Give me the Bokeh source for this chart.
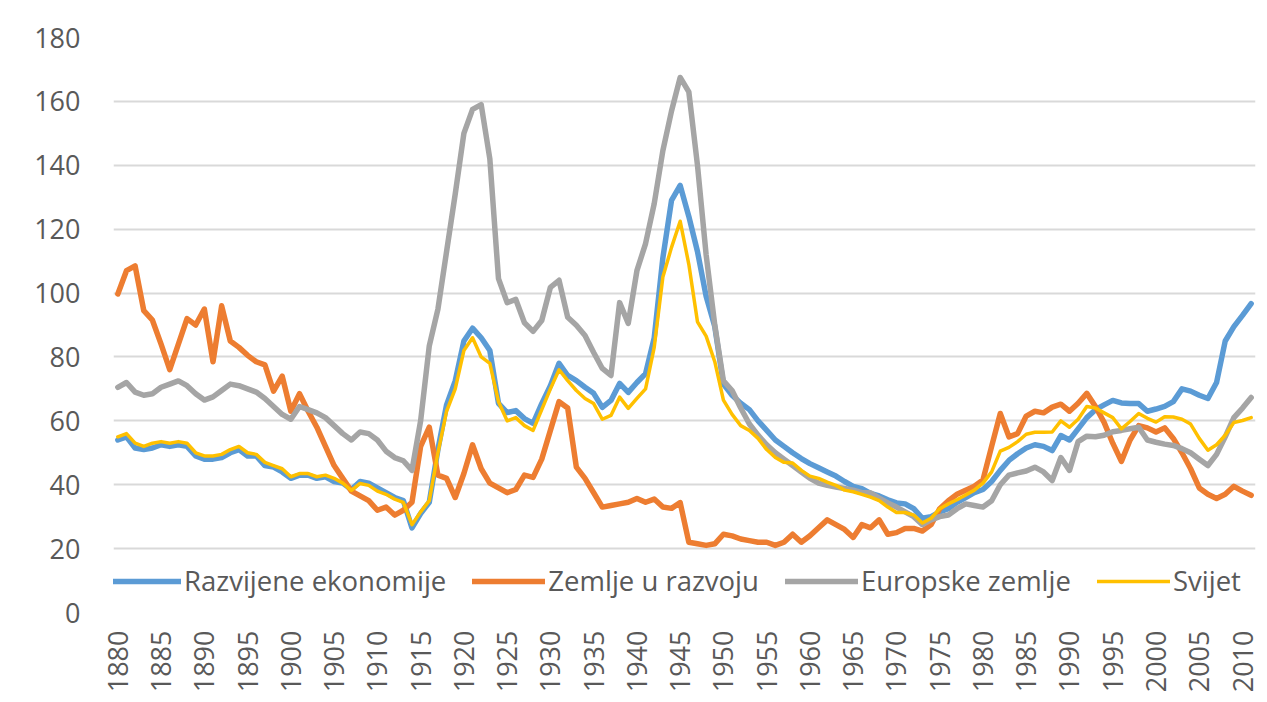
import math
from bokeh.plotting import figure
from bokeh.models import FixedTicker, Legend, LegendItem
from bokeh.embed import file_html
from bokeh.resources import INLINE

years = list(range(1880, 2012))

razvijene = [
    54, 55, 51.5, 51, 51.5, 52.5, 52, 52.5, 52, 49,
    48, 48, 48.5, 50, 51, 49, 49, 46, 45.5, 44,
    42, 43, 43, 42, 42.5, 41, 40.5, 38.5, 41, 40.5,
    39, 37.5, 36, 35, 26.5, 31, 34.5, 51, 65, 72.5,
    85, 89, 86, 82, 65.5, 62.6, 63.2, 60.7, 59.2, 65.4,
    71, 78, 74.2, 72.6, 70.5, 68.6, 64.2, 66.4, 71.7, 68.9,
    72, 74.8, 86, 111, 129, 133.7, 124, 113, 99, 89.5,
    71.5, 68, 65.5, 63.5, 60, 57, 54, 52, 50, 48.2,
    46.6, 45.3, 44, 42.7, 41, 39.5, 38.8, 37.3, 36.5, 35.3,
    34.3, 34, 32.5, 29.5, 30, 31.5, 32.5, 34.5, 36, 37.5,
    38.5, 41, 44.5, 47.6, 49.7, 51.5, 52.5, 52, 50.7, 55.4,
    54, 57.5, 61, 63.5, 65, 66.4, 65.6, 65.4, 65.4, 63,
    63.7, 64.5, 66, 70, 69.3, 68, 67, 72, 85, 89.5,
    93, 96.7,
]

u_razvoju = [
    99.7, 107, 108.5, 94.5, 91.5, 84, 76, 84, 92, 90,
    95, 78.5, 96, 85, 83, 80.5, 78.5, 77.5, 69.3, 74,
    63, 68.5, 63, 58, 52, 46, 42, 38, 36.5, 35,
    32, 33, 30.5, 32, 34.5, 52, 58, 43, 42, 36,
    43.5, 52.5, 45, 40.5, 39, 37.5, 38.5, 43, 42.3, 48,
    57, 66, 64, 45.5, 42, 37.5, 33, 33.5, 34, 34.5,
    35.7, 34.5, 35.5, 33, 32.6, 34.4, 22, 21.5, 21, 21.5,
    24.5, 24, 23, 22.5, 22, 22, 21, 22, 24.5, 22,
    24, 26.5, 29, 27.5, 26, 23.5, 27.5, 26.5, 29, 24.5,
    25, 26.3, 26.3, 25.5, 27.5, 32.5, 35, 37, 38.3, 39.5,
    41.5, 52, 62.3, 55, 56, 61.5, 63, 62.5, 64.3, 65.2,
    63, 65.5, 68.6, 64.5, 59.5, 53, 47.3, 54, 58.5, 57.8,
    56.5, 57.8, 54.5, 50, 45, 39, 37, 35.7, 37, 39.5,
    38, 36.7,
]

europske = [
    70.5, 72, 69, 68, 68.5, 70.5, 71.5, 72.5, 71, 68.5,
    66.5, 67.5, 69.5, 71.5, 71, 70, 69, 67, 64.5, 62,
    60.5, 64.5, 63.5, 62.5, 61, 58.5, 56, 54, 56.5, 56,
    54, 50.5, 48.5, 47.5, 44.5, 60, 83.5, 95, 113, 131,
    150, 157.5, 159, 142, 104.5, 97, 98, 90.7, 88, 91.4,
    101.8, 104, 92.4, 89.9, 86.7, 81.4, 76.4, 74.2, 97, 90.5,
    107, 115.5, 128, 144.6, 157, 167.5, 163, 140, 112, 90,
    72.5, 69.5, 64, 59, 55.5, 52.5, 50, 48, 46, 44,
    42, 40.5, 39.8, 39.3, 38.8, 38.3, 37.5, 37.5, 35.8, 34.3,
    33, 31.5, 30, 27.5, 29, 30, 30.5, 32.5, 34, 33.5,
    33, 35, 40, 43, 43.7, 44.3, 45.5, 44, 41.3, 48.5,
    44.5, 53.5, 55.2, 55, 55.5, 56.6, 57, 57.5, 58, 54,
    53.3, 52.7, 52.3, 51.3, 50, 48, 46, 49.5, 55, 61,
    64, 67.3,
]

svijet = [
    55, 56, 53, 52, 53, 53.5, 53, 53.5, 53, 50,
    49, 49, 49.5, 51, 52, 50, 49.5, 47, 46, 45,
    42.5, 43.5, 43.5, 42.5, 43, 42, 40.5, 38.2, 40.4, 39.8,
    38, 37, 35.5, 34.5, 27.5, 31.5, 35, 50, 63, 70,
    82, 86, 80, 78, 66, 60, 61, 58.5, 57, 63.5,
    70, 76, 72.6, 69.5, 67, 65.4, 60.5, 61.7, 67.4, 63.9,
    67, 70, 83, 105, 114.3, 122.5, 109, 91, 86.5, 78.5,
    66.5, 62, 58.5, 57, 54.5, 51, 48.5, 47, 46.8, 44.5,
    42.7, 42, 40.8, 39.8, 38.3, 37.8, 37, 36.1, 35, 33,
    31.3, 31.3, 30.5, 28, 29.5, 32.5, 34, 35.3, 36.8, 38.3,
    40.5, 44, 50.5, 51.7, 53.5, 55.8, 56.4, 56.4, 56.5, 60,
    58, 60.5, 64.5, 64, 62.5, 61, 57.5, 59.8, 62.3, 60.8,
    59.6, 61.3, 61.2, 60.5, 59, 54.5, 50.8, 52.5, 55.5, 59.5,
    60.1, 61,
]

series_names = ["Razvijene ekonomije", "Zemlje u razvoju", "Europske zemlje", "Svijet"]
x_ticks = list(range(1880, 2011, 5))
y_ticks = list(range(0, 181, 20))

FONT = "Open Sans"
TXT = "#595959"

p = figure(frame_width=1142, frame_height=575,
           x_range=(1879.5, 2011.5), y_range=(0, 180),
           output_backend="svg", toolbar_location=None,
           min_border_left=113, min_border_right=10,
           min_border_top=37, min_border_bottom=82)
p.outline_line_color = None
p.background_fill_color = "white"
p.border_fill_color = "white"

p.xgrid.grid_line_color = None
p.ygrid.ticker = FixedTicker(ticks=y_ticks)
p.ygrid.grid_line_color = "#D9D9D9"
p.ygrid.grid_line_width = 2

p.xaxis.ticker = FixedTicker(ticks=x_ticks)
p.yaxis.ticker = FixedTicker(ticks=y_ticks)
p.xaxis.major_label_orientation = math.pi / 2
for ax in (p.xaxis, p.yaxis):
    ax.axis_line_color = None
    ax.major_tick_line_color = None
    ax.minor_tick_line_color = None
    ax.major_label_text_font = FONT
    ax.major_label_text_font_size = "27px"
    ax.major_label_text_color = TXT
p.yaxis.major_label_standoff = 27
p.xaxis.major_label_standoff = 12

colors = ["#5B9BD5", "#ED7D31", "#A5A5A5", "#FFC000"]
widths = [5.5, 5.5, 5.5, 3.5]
data = [razvijene, u_razvoju, europske, svijet]
items = []
for name, vals, c, w in zip(series_names, data, colors, widths):
    r = p.line(years, vals, line_color=c, line_width=w,
               line_join="round", line_cap="round")
    items.append(LegendItem(label=name, renderers=[r]))

legend = Legend(items=items, orientation="horizontal", location=(-5, 13),
                glyph_width=73, glyph_height=28, label_standoff=3, spacing=26,
                padding=0, margin=0, border_line_color=None,
                background_fill_alpha=0,
                label_text_font=FONT, label_text_font_size="27.5px",
                label_text_color=TXT)
p.add_layout(legend)

open("out.html", "w").write(file_html(p, INLINE))
